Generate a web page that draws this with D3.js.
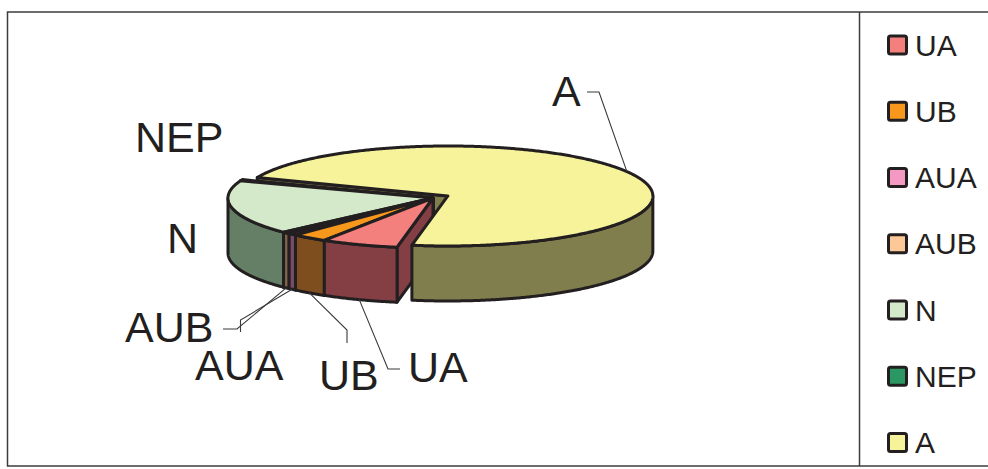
<!DOCTYPE html>
<html><head><meta charset="utf-8">
<script src="https://cdn.jsdelivr.net/npm/d3@7"></script>
<style>
html,body{margin:0;padding:0;background:#fff;}
svg{display:block;}
text{font-family:"Liberation Sans",Arial,Helvetica,sans-serif;fill:#231f20;}
</style></head><body>
<svg id="chart" width="988" height="469"></svg>
<script>
// ---- data ----
const categories = ["UA", "UB", "AUA", "AUB", "N", "NEP", "A"];
const shares = [6.1, 2.8, 0.7, 0.6, 17.6, 0.4, 71.8];
const legendLabels = ["UA", "UB", "AUA", "AUB", "N", "NEP", "A"];
const explodedCategory = "A";

// ---- styles ----
const topColors  = ["#f4807e", "#f7981d", "#f49ac2", "#fdc897", "#d3e9c9", "#2b9863", "#f6f39b"];
const sideColors = ["#833f43", "#7e4e1f", "#7a4b67", "#7f644b", "#647f65", "#1a5a3a", "#807e4c"];
const ink = "#231f20";

// ---- layout ----
const W = 988, H = 469;
const cx = 433, cy = 198, rx = 205, ry = 50, depth = 55, explodeDist = 17;
const startDeg = 190.1;
const labelLayout = {
  A:   {x: 552, y: 106, anchor: "top",    pts: [[599, 92], [587, 92]]},
  UA:  {x: 408, y: 382, anchor: "bottom", pts: [[388, 369], [400, 369]]},
  UB:  {x: 319, y: 390, anchor: "bottom", pts: [[347, 330], [347, 343]]},
  AUA: {x: 195, y: 380, anchor: "bottom", pts: [[240.5, 320], [240.5, 332]]},
  AUB: {x: 125, y: 342, anchor: "bottom", pts: [[237, 329], [223, 329]]},
  N:   {x: 167, y: 253, anchor: null, pts: []},
  NEP: {x: 135, y: 152, anchor: null, pts: []}
};

const svg = d3.select("#chart");

// frame
svg.append("rect").attr("x", 7.5).attr("y", 12).attr("width", 1000).attr("height", 454)
  .attr("fill", "none").attr("stroke", "#3c3c3c").attr("stroke-width", 1.5);
svg.append("line").attr("x1", 859.5).attr("x2", 859.5).attr("y1", 12).attr("y2", 466)
  .attr("stroke", "#3c3c3c").attr("stroke-width", 1.5);

// pie layout
const data = categories.map((c, i) => ({name: c, v: shares[i], top: topColors[i], side: sideColors[i]}));
const a0 = startDeg * Math.PI / 180;
const pie = d3.pie().sort(null).value(d => d.v).startAngle(a0).endAngle(a0 + 2 * Math.PI);
const arcs = pie(data);
arcs.forEach(d => {
  d.t0 = d.startAngle - Math.PI / 2;
  d.t1 = d.endAngle - Math.PI / 2;
  d.tm = (d.t0 + d.t1) / 2;
  const e = d.data.name === explodedCategory ? explodeDist : 0;
  d.ox = cx + e * Math.cos(d.tm);
  d.oy = cy + e * Math.sin(d.tm) * ry / rx;
});
const P = (d, t, z) => [d.ox + rx * Math.cos(t), d.oy + ry * Math.sin(t) + z];
const arcPts = (d, ta, tb, z) => {
  const n = Math.max(2, Math.ceil(Math.abs(tb - ta) / (Math.PI / 360)));
  return d3.range(n + 1).map(i => P(d, ta + (tb - ta) * i / n, z));
};
const line = d3.line();
const closed = pts => line(pts) + "Z";

const g = svg.append("g").attr("stroke", ink).attr("stroke-width", 3).attr("stroke-linejoin", "round");

// cut faces
const faces = [];
arcs.forEach(d => {
  if (Math.cos(d.t0) < 0) faces.push({d, t: d.t0});
  if (Math.cos(d.t1) > 0) faces.push({d, t: d.t1});
});
faces.sort((a, b) => Math.sin(a.t) - Math.sin(b.t));
g.selectAll("path.face").data(faces).join("path").attr("class", "face")
  .attr("fill", f => f.d.data.side)
  .attr("d", f => closed([[f.d.ox, f.d.oy], P(f.d, f.t, 0), P(f.d, f.t, depth), [f.d.ox, f.d.oy + depth]]));

// outer walls (front half only)
const walls = [];
arcs.forEach(d => {
  for (let k = -1; k <= 2; k++) {
    const lo = Math.max(d.t0, 2 * Math.PI * k), hi = Math.min(d.t1, 2 * Math.PI * k + Math.PI);
    if (hi > lo) walls.push({d, lo, hi});
  }
});
g.selectAll("path.wall").data(walls).join("path").attr("class", "wall")
  .attr("fill", w => w.d.data.side)
  .attr("d", w => closed(arcPts(w.d, w.lo, w.hi, 0).concat(arcPts(w.d, w.hi, w.lo, depth))));

// tops
const tops = arcs.slice().sort((a, b) => Math.sin(a.tm) - Math.sin(b.tm));
g.selectAll("path.top").data(tops).join("path").attr("class", "top")
  .attr("fill", d => d.data.top)
  .attr("d", d => closed([[d.ox, d.oy]].concat(arcPts(d, d.t0, d.t1, 0))));

// leader lines and labels
arcs.forEach(d => {
  const L = labelLayout[d.data.name];
  if (L.anchor) {
    const start = P(d, d.tm, L.anchor === "top" ? 0 : depth);
    svg.append("path").attr("d", line([start].concat(L.pts)))
      .attr("fill", "none").attr("stroke", "#3a3a3a").attr("stroke-width", 1.1);
  }
  svg.append("text").attr("x", L.x).attr("y", L.y).attr("font-size", 43).text(d.data.name);
});

// legend
const ly = d3.scalePoint().domain(legendLabels).range([45, 442.5]);
const leg = svg.append("g");
legendLabels.forEach((name, i) => {
  const y = ly(name);
  leg.append("rect").attr("x", 888.5).attr("y", y - 9).attr("width", 18).attr("height", 18).attr("rx", 2)
    .attr("fill", topColors[categories.indexOf(name)]).attr("stroke", ink).attr("stroke-width", 3);
  leg.append("text").attr("x", 915).attr("y", y + 10.5).attr("font-size", 30).text(name);
});
</script>
</body></html>
